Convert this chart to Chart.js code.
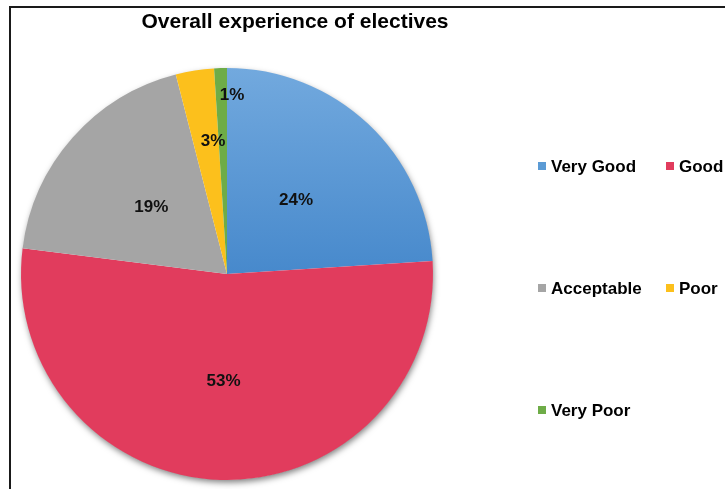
<!DOCTYPE html>
<html>
<head>
<meta charset="utf-8">
<title>Overall experience of electives</title>
<script src="https://cdn.jsdelivr.net/npm/chart.js@4.4.1/dist/chart.umd.min.js"></script>
<style>
  html, body { margin: 0; padding: 0; background: #fff; }
  #wrap { width: 725px; height: 489px; position: relative; }
</style>
</head>
<body>
<div id="wrap"><canvas id="pie" width="725" height="489"></canvas></div>
<script>
// survey answers, percent of respondents
const categories = ['Very Good', 'Good', 'Acceptable', 'Poor', 'Very Poor'];
const shares = [24, 53, 19, 3, 1];
const chartTitle = 'Overall experience of electives';

const sliceColors = ['#5b9bd5', '#e13c5d', '#a5a5a5', '#fcc01c', '#6eac47'];
// where each percentage sits: fraction of the radius, and a small turn in degrees
const labelRadius = [0.49, 0.52, 0.49, 0.65, 0.87];
const labelTurn = [0, 0, 0, 3, 3.4];

const FONT = '"Liberation Sans", Arial, sans-serif';

function sliceFill(ctx) {
    const i = ctx.dataIndex;
    const area = ctx.chart.chartArea;
    if (i !== 0 || !area) return sliceColors[i];
    // the blue slice fades from light at the top to deeper blue
    const g = ctx.chart.ctx.createLinearGradient(0, area.top, 0, area.bottom);
    g.addColorStop(0, '#72a9de');
    g.addColorStop(0.5, '#4789cc');
    g.addColorStop(1, '#3a78bb');
    return g;
}

// frame, title, drop shadow, slice labels and the two column legend
const decor = {
    id: 'decor',
    beforeDatasetsDraw(chart) {
        const arc = chart.getDatasetMeta(0).data[0];
        if (!arc) return;
        const c = chart.ctx;
        c.save();
        c.shadowColor = 'rgba(0,0,0,0.5)';
        c.shadowBlur = 6;
        c.shadowOffsetX = 1;
        c.shadowOffsetY = 3;
        c.fillStyle = '#ffffff';
        c.beginPath();
        c.arc(arc.x, arc.y, arc.outerRadius - 0.5, 0, Math.PI * 2);
        c.fill();
        c.restore();
    },
    afterDatasetsDraw(chart) {
        const c = chart.ctx;
        const meta = chart.getDatasetMeta(0);
        c.save();
        c.font = 'bold 17px ' + FONT;
        c.fillStyle = '#111';
        c.textAlign = 'center';
        c.textBaseline = 'middle';
        meta.data.forEach((arc, i) => {
            const mid = (arc.startAngle + arc.endAngle) / 2 + labelTurn[i] * Math.PI / 180;
            const r = arc.outerRadius * labelRadius[i];
            c.fillText(shares[i] + '%', arc.x + Math.cos(mid) * r, arc.y + Math.sin(mid) * r);
        });
        c.restore();
    },
    afterDraw(chart) {
        const c = chart.ctx;
        c.save();
        // outer frame
        c.strokeStyle = '#1a1a1a';
        c.lineWidth = 2;
        c.beginPath();
        c.moveTo(10, 489);
        c.lineTo(10, 7);
        c.lineTo(725, 7);
        c.stroke();

        c.fillStyle = '#000';
        c.font = 'bold 21px ' + FONT;
        c.textAlign = 'center';
        c.textBaseline = 'alphabetic';
        c.fillText(chartTitle, 295, 28);

        // legend: two columns, three rows
        const colX = [538, 666];
        const rowY = [166, 288, 410];
        c.font = 'bold 17px ' + FONT;
        c.textAlign = 'left';
        c.textBaseline = 'middle';
        categories.forEach((name, i) => {
            const x = colX[i % 2];
            const y = rowY[Math.floor(i / 2)];
            c.fillStyle = sliceColors[i];
            c.fillRect(x, y - 4, 8, 8);
            c.fillStyle = '#000';
            c.fillText(name, x + 13, y + 1);
        });
        c.restore();
    }
};

new Chart(document.getElementById('pie'), {
    type: 'pie',
    data: {
        labels: categories,
        datasets: [{
            data: shares,
            backgroundColor: sliceFill,
            borderWidth: 0
        }]
    },
    options: {
        responsive: false,
        animation: false,
        events: [],
        layout: { padding: { left: 21, right: 292, top: 68, bottom: 9 } },
        plugins: {
            legend: { display: false },
            title: { display: false },
            tooltip: { enabled: false }
        }
    },
    plugins: [decor]
});
</script>
</body>
</html>
